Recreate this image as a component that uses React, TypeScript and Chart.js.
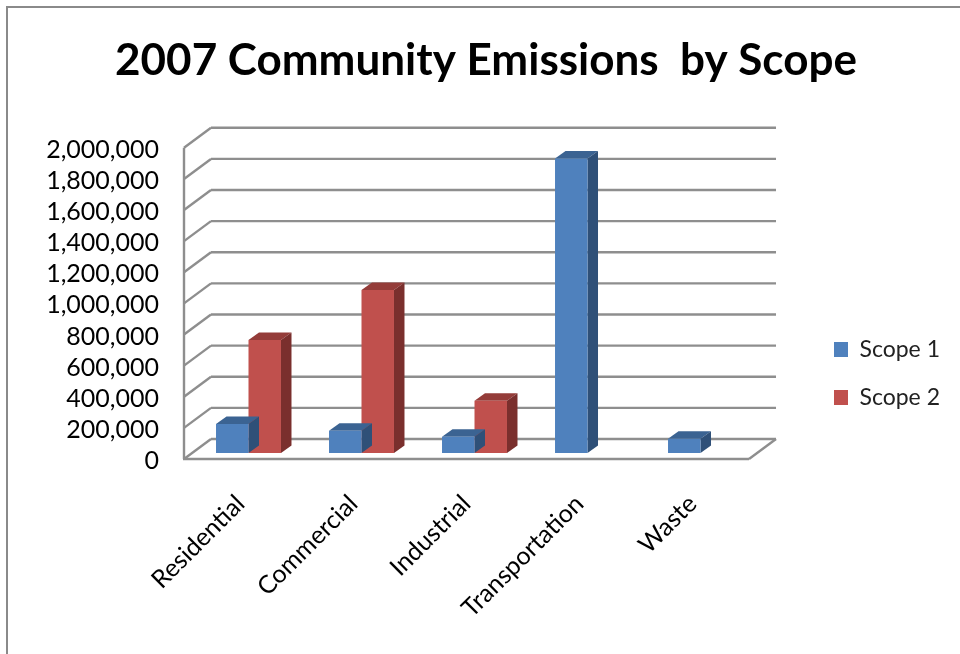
import React, { useEffect, useRef } from "react";
import { Chart, registerables } from "chart.js";

Chart.register(...registerables);

const categories = ["Residential", "Commercial", "Industrial", "Transportation", "Waste"];
const scope1 = [186000, 143000, 105000, 1893000, 92000];
const scope2 = [727000, 1048000, 336000, null, null];
const yMax = 2000000;
const yStep = 200000;

const FONT = "Lato, Carlito, 'Open Sans', sans-serif";
const GRID = "#8e8e8e";
const BLUE = { front: "#4f81bd", top: "#3b6392", side: "#2f5078" };
const RED = { front: "#c0504d", top: "#943c39", side: "#7a2f2d" };

// Depth of the walls and of the bars, relative to the plane the bars stand on.
const WALL = { frontX: -8, frontY: 6, backX: 19, backY: -14 };
const BAR_DEPTH = { x: 10.5, y: -7.5 };

const line = (ctx: CanvasRenderingContext2D, x1: number, y1: number, x2: number, y2: number) => {
  ctx.beginPath();
  ctx.moveTo(x1, y1);
  ctx.lineTo(x2, y2);
  ctx.stroke();
};

const poly = (ctx: CanvasRenderingContext2D, pts: number[][], fill: string) => {
  ctx.beginPath();
  pts.forEach(([x, y], i) => (i ? ctx.lineTo(x, y) : ctx.moveTo(x, y)));
  ctx.closePath();
  ctx.fillStyle = fill;
  ctx.fill();
};

// Back wall grid, side wall diagonals and floor outline.
const wallsPlugin = {
  id: "walls",
  beforeDatasetsDraw(chart: any) {
    const { ctx, chartArea, scales } = chart;
    const { left, right } = chartArea;
    const y = scales.y;
    ctx.save();
    ctx.strokeStyle = GRID;
    ctx.lineWidth = 2.4;
    for (let v = 0; v <= yMax; v += yStep) {
      const p = y.getPixelForValue(v);
      line(ctx, left + WALL.frontX, p + WALL.frontY, left + WALL.backX, p + WALL.backY);
      line(ctx, left + WALL.backX, p + WALL.backY, right + WALL.backX, p + WALL.backY);
    }
    const zero = y.getPixelForValue(0);
    const top = y.getPixelForValue(yMax);
    line(ctx, left + WALL.frontX, top + WALL.frontY, left + WALL.frontX, zero + WALL.frontY);
    line(ctx, left + WALL.frontX - 1, zero + WALL.frontY, right + WALL.frontX, zero + WALL.frontY);
    line(ctx, right + WALL.frontX, zero + WALL.frontY, right + WALL.backX, zero + WALL.backY);
    ctx.restore();
  },
};

// Top and side faces of each bar, extruded from the bar the library has just drawn.
const extrudePlugin = {
  id: "extrude",
  beforeDatasetDraw(chart: any, args: any) {
    const { ctx } = chart;
    const colors = args.index === 0 ? BLUE : RED;
    const meta = chart.getDatasetMeta(args.index);
    const values = chart.data.datasets[args.index].data;
    meta.data.forEach((bar: any, i: number) => {
      if (values[i] == null) return;
      const { x, y, base, width } = bar.getProps(["x", "y", "base", "width"], true);
      const l = x - width / 2;
      const r = x + width / 2;
      const dx = BAR_DEPTH.x;
      const dy = BAR_DEPTH.y;
      poly(ctx, [[l, y], [r, y], [r + dx, y + dy], [l + dx, y + dy]], colors.top);
      poly(ctx, [[r, y], [r + dx, y + dy], [r + dx, base + dy], [r, base]], colors.side);
    });
  },
};

// Moves the title and legend boxes to their place beside the plot.
const placementPlugin = {
  id: "placement",
  afterLayout(chart: any) {
    const lg = chart.legend;
    const w = lg.right - lg.left;
    const h = lg.bottom - lg.top;
    lg.left = 834 - lg.options.labels.padding;
    lg.right = lg.left + w;
    lg.top = 313;
    lg.bottom = lg.top + h;
    const t = chart.titleBlock;
    t.left = 12;
    t.right = 960;
  },
};

export default function App() {
  const ref = useRef<HTMLCanvasElement>(null);

  useEffect(() => {
    const chart = new Chart(ref.current as HTMLCanvasElement, {
      type: "bar",
      data: {
        labels: categories,
        datasets: [
          { label: "Scope 1", data: scope1, backgroundColor: BLUE.front },
          { label: "Scope 2", data: scope2, backgroundColor: RED.front },
        ],
      },
      plugins: [wallsPlugin, extrudePlugin, placementPlugin],
      options: {
        responsive: false,
        animation: false,
        layout: { padding: { right: 62 } },
        datasets: { bar: { categoryPercentage: 0.575, barPercentage: 1 } },
        plugins: {
          tooltip: { enabled: false },
          title: {
            display: true,
            text: "2007 Community Emissions  by Scope",
            color: "#000000",
            font: { family: FONT, size: 44, weight: "bold", lineHeight: 1.2 },
            padding: { top: 34, bottom: 55 },
          },
          legend: {
            display: true,
            position: "right",
            align: "start",
            labels: {
              color: "#222222",
              boxWidth: 14,
              boxHeight: 15,
              padding: 25,
              font: { family: FONT, size: 23 },
            },
          },
        },
        scales: {
          x: {
            grid: { display: false, drawTicks: false },
            border: { display: false },
            afterFit(scale: any) {
              scale.height = 201;
            },
            ticks: {
              color: "#000000",
              minRotation: 45,
              maxRotation: 45,
              padding: 36,
              labelOffset: -8,
              font: { family: FONT, size: 25 },
            },
          },
          y: {
            min: 0,
            max: yMax,
            grid: { display: false, drawTicks: false },
            border: { display: false },
            afterFit(scale: any) {
              scale.width = 192;
            },
            ticks: {
              stepSize: yStep,
              autoSkip: false,
              color: "#000000",
              padding: 33,
              labelOffset: 8,
              font: { family: FONT, size: 25 },
              callback: (v: any) => Number(v).toLocaleString("en-US"),
            },
          },
        },
      },
    } as any);
    return () => chart.destroy();
  }, []);

  return (
    <div style={{ position: "fixed", left: 0, top: 0, width: 960, height: 654, background: "#ffffff", overflow: "hidden" }}>
      <canvas ref={ref} width={960} height={654} style={{ display: "block" }} />
      <div
        style={{
          position: "absolute",
          left: 6,
          top: 6,
          width: 960,
          height: 654,
          borderLeft: "2px solid #8a8a8a",
          borderTop: "2px solid #8a8a8a",
        }}
      />
    </div>
  );
}
